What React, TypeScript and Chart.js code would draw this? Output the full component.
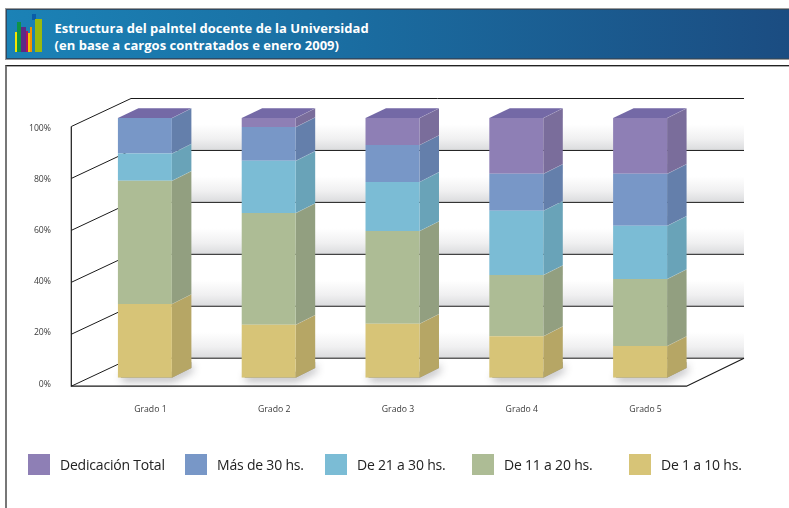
import React, { useEffect, useRef } from "react";
import { Chart, registerables } from "chart.js";

Chart.register(...registerables);

const categories = ["Grado 1", "Grado 2", "Grado 3", "Grado 4", "Grado 5"];
const legendNames = ["Dedicación Total", "Más de 30 hs.", "De 21 a 30 hs.", "De 11 a 20 hs.", "De 1 a 10 hs."];
const dedicacionTotal = [0, 3.5, 10.4, 21.5, 21.5];
const masDe30 = [13.7, 13, 14.2, 14.2, 20];
const de21a30 = [10.5, 20.1, 18.9, 24.8, 20.5];
const de11a20 = [47.4, 43, 35.7, 23.5, 25.8];
const de1a10 = [28.4, 20.4, 20.8, 16, 12.2];

const frontColors = ["#8e7fb5", "#7897c7", "#7bbcd5", "#adbc95", "#d7c477"];
const sideColors = ["#7a6d9b", "#647fab", "#69a3b8", "#929f80", "#b6a665"];
const legendSwatchX = [28, 185, 325, 472, 629];
const legendTextX = [60, 217, 357, 504, 661];
const iconBars = [
  ["#f6e500", 15, 32, 2, 20],
  ["#0f9345", 17, 22, 4, 30],
  ["#5c2a86", 21, 27, 5, 25],
  ["#b0125f", 26, 31, 2, 21],
  ["#f9c300", 28, 33, 2, 19],
  ["#f39200", 30, 27, 2, 25],
  ["#0a5ca8", 32, 14, 4, 6],
  ["#9ab90e", 35, 19, 7, 33],
] as const;

const DX = 19.5;
const DY = 9.8;

const depthPlugin = {
  id: "depth3d",
  beforeDraw(chart: any) {
    const { ctx, scales } = chart;
    const y = scales.y;
    const items = y.getLabelItems();
    items.forEach((it: any, i: number) => {
      const v = y.ticks[i].value;
      it.options.translation[1] += (v - 50) * 0.043 + 0.5;
    });
    const val = (v: number) => y.getPixelForValue(v);
    const backLeft = 131;
    const backRight = 744;
    const frontLeft = 71.3;
    const frontRight = 686.5;
    const backShift = -19.5;
    const frontShift = 8.5;
    const ticks = y.ticks.map((t: any) => t.value).sort((a: number, b: number) => b - a);

    ctx.save();
    for (let i = 0; i < ticks.length - 1; i++) {
      const top = val(ticks[i]) + backShift;
      const bottom = val(ticks[i + 1]) + backShift;
      const g = ctx.createLinearGradient(0, top, 0, bottom);
      g.addColorStop(0, "#ffffff");
      g.addColorStop(0.5, "#ffffff");
      g.addColorStop(0.78, "#f0f0f1");
      g.addColorStop(1, "#dadbdd");
      ctx.fillStyle = g;
      ctx.fillRect(backLeft, top, backRight - backLeft, bottom - top);
    }
    ctx.strokeStyle = "#1a1a1a";
    ctx.lineWidth = 1;
    ticks.forEach((t: number) => {
      const by = val(t) + backShift;
      const fy = val(t) + frontShift;
      ctx.beginPath();
      ctx.moveTo(frontLeft, fy);
      ctx.lineTo(backLeft, by);
      ctx.lineTo(backRight, by);
      ctx.stroke();
    });
    const floorFront = val(0) + frontShift;
    const floorBack = val(0) + backShift;
    ctx.lineWidth = 1.2;
    ctx.beginPath();
    ctx.moveTo(frontLeft, val(100) + frontShift);
    ctx.lineTo(frontLeft, floorFront);
    ctx.lineTo(frontRight, floorFront);
    ctx.lineTo(backRight, floorBack);
    ctx.stroke();
    ctx.restore();
  },
  beforeDatasetsDraw(chart: any) {
    const { ctx } = chart;
    const count = chart.data.labels.length;
    const metas = chart.data.datasets.map((_: any, i: number) => chart.getDatasetMeta(i));
    ctx.save();
    for (let c = 0; c < count; c++) {
      const bottom = metas[0].data[c];
      const left = bottom.x - bottom.width / 2;
      const right = bottom.x + bottom.width / 2;
      const base = bottom.base;
      // Soft shadow on the floor.
      ctx.save();
      ctx.shadowColor = "rgba(40,40,50,0.42)";
      ctx.shadowBlur = 8;
      ctx.shadowOffsetX = 1;
      ctx.shadowOffsetY = 3;
      ctx.fillStyle = "#999";
      ctx.beginPath();
      ctx.moveTo(left + 3, base - 6);
      ctx.lineTo(right, base - 6);
      ctx.lineTo(right + DX, base - 6 - DY);
      ctx.lineTo(right + DX, base - DY);
      ctx.lineTo(right, base);
      ctx.lineTo(left + 3, base);
      ctx.closePath();
      ctx.fill();
      ctx.restore();

      metas.forEach((meta: any, d: number) => {
        const el = meta.data[c];
        if (Math.abs(el.base - el.y) < 0.01) return;
        ctx.fillStyle = sideColors[chart.data.datasets.length - 1 - d];
        ctx.beginPath();
        ctx.moveTo(right, el.base);
        ctx.lineTo(right + DX, el.base - DY);
        ctx.lineTo(right + DX, el.y - DY);
        ctx.lineTo(right, el.y);
        ctx.closePath();
        ctx.fill();
        ctx.strokeStyle = "rgba(255,255,255,0.35)";
        ctx.lineWidth = 0.8;
        ctx.beginPath();
        ctx.moveTo(right, el.y);
        ctx.lineTo(right + DX, el.y - DY);
        ctx.stroke();
      });

      const topEl = metas[metas.length - 1].data[c];
      ctx.fillStyle = "#7469a6";
      ctx.beginPath();
      ctx.moveTo(left, topEl.y);
      ctx.lineTo(left + DX + 1, topEl.y - DY);
      ctx.lineTo(right + DX, topEl.y - DY);
      ctx.lineTo(right, topEl.y);
      ctx.closePath();
      ctx.fill();
    }
    ctx.restore();
  },
};

export default function App() {
  const canvasRef = useRef<HTMLCanvasElement | null>(null);

  useEffect(() => {
    const series = [de1a10, de11a20, de21a30, masDe30, dedicacionTotal];
    const chart = new Chart(canvasRef.current as HTMLCanvasElement, {
      type: "bar",
      data: {
        labels: categories,
        datasets: series.map((values, i) => ({
          label: legendNames[series.length - 1 - i],
          data: values,
          backgroundColor: frontColors[series.length - 1 - i],
          borderWidth: 0,
          barPercentage: 0.436,
          categoryPercentage: 1,
        })),
      },
      options: {
        responsive: false,
        animation: false,
        layout: { padding: { top: 118, right: 87, left: 0, bottom: 0 } },
        plugins: { legend: { display: false }, title: { display: false }, tooltip: { enabled: false } },
        scales: {
          x: {
            stacked: true,
            grid: { display: false, drawTicks: false },
            border: { display: false },
            afterFit(scale: any) {
              scale.height = 130.3;
            },
            ticks: {
              padding: 26.5,
              labelOffset: 5.5,
              maxRotation: 0,
              autoSkip: false,
              color: "#3a3a3a",
              font: { family: "'Open Sans'", size: 8.7 },
            },
          },
          y: {
            stacked: true,
            min: 0,
            max: 100,
            grid: { display: false, drawTicks: false },
            border: { display: false },
            afterFit(scale: any) {
              scale.width = 83;
            },
            ticks: {
              stepSize: 20,
              padding: 32,
              labelOffset: 8,
              color: "#3a3a3a",
              font: { family: "'Open Sans'", size: 8.7 },
              callback: (v: any) => `${v}%`,
            },
          },
        },
      } as any,
      plugins: [depthPlugin],
    });
    return () => chart.destroy();
  }, []);

  return (
    <div style={{ position: "fixed", left: 0, top: 0, width: 789, height: 508, overflow: "hidden", background: "#fff" }}>
      <div
        style={{
          position: "absolute",
          left: 6,
          top: 9,
          width: 790,
          height: 50,
          boxSizing: "border-box",
          border: "1px solid #2c4a66",
          outline: "1px solid #9a9a9a",
          background: "linear-gradient(90deg,#1b82b6 0%,#1a6fa3 40%,#1b4c81 100%)",
        }}
      />
      {iconBars.map(([color, x, y, w, h], i) => (
        <div key={i} style={{ position: "absolute", left: x, top: y, width: w, height: h, background: color }} />
      ))}
      <div
        style={{
          position: "absolute",
          left: 54.5,
          top: 20,
          color: "#ffffff",
          fontFamily: "'Open Sans'",
          fontWeight: 700,
          fontSize: 13,
          letterSpacing: 0.03,
          lineHeight: "17px",
          whiteSpace: "nowrap",
        }}
      >
        Estructura del palntel docente de la Universidad
        <br />
        (en base a cargos contratados e enero 2009)
      </div>
      <div
        style={{
          position: "absolute",
          left: 5,
          top: 65,
          width: 800,
          height: 460,
          boxSizing: "border-box",
          borderLeft: "2px solid #777",
          borderTop: "1px solid #222",
          boxShadow: "inset 0 1px 0 #aaa",
        }}
      />
      <canvas ref={canvasRef} width={789} height={508} style={{ position: "absolute", left: 0, top: 0 }} />
      {legendNames.map((name, i) => (
        <React.Fragment key={name}>
          <div
            style={{
              position: "absolute",
              left: legendSwatchX[i],
              top: 454,
              width: 22,
              height: 21,
              background: frontColors[i],
            }}
          />
          <div
            style={{
              position: "absolute",
              left: legendTextX[i],
              top: 454,
              lineHeight: "21px",
              fontFamily: "'Open Sans'",
              fontSize: 14,
              letterSpacing: -0.2,
              color: "#222",
              whiteSpace: "nowrap",
            }}
          >
            {name}
          </div>
        </React.Fragment>
      ))}
    </div>
  );
}
